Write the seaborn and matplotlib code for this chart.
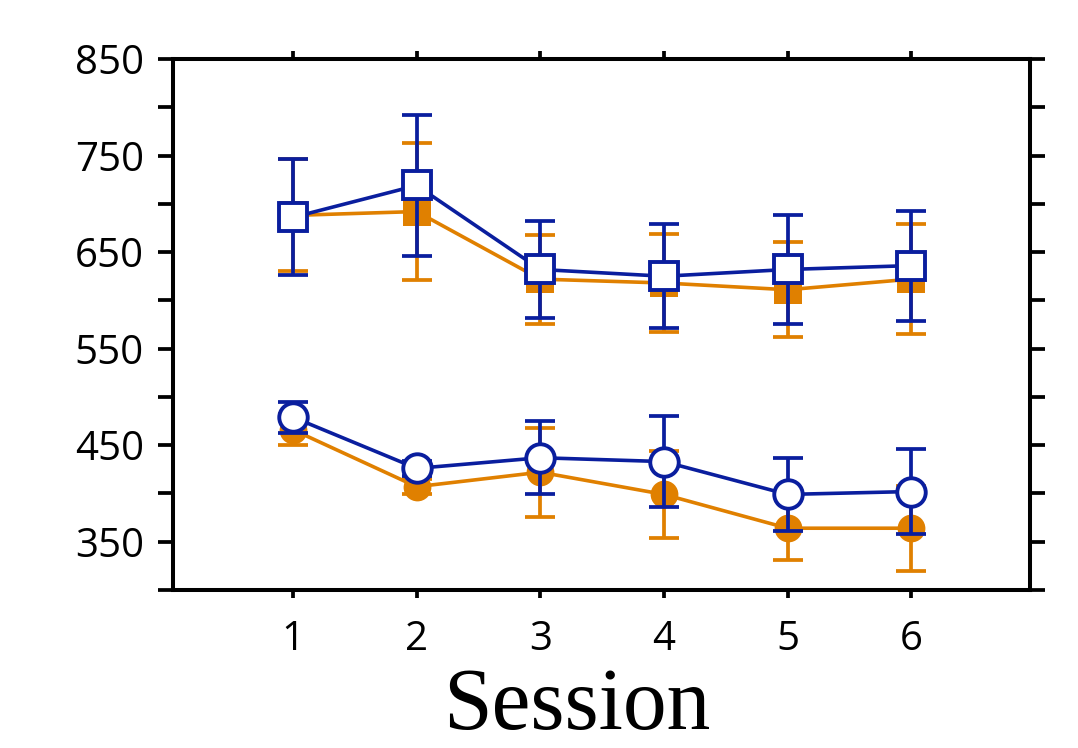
import numpy as np
import pandas as pd
import matplotlib
matplotlib.use("Agg")
import matplotlib.pyplot as plt
import seaborn as sns

sessions = [1, 2, 3, 4, 5, 6]

# squares (upper group)
sq_blue = [686, 719, 632, 625, 632, 636]
sq_blue_err = [60, 73, 50, 54, 56, 57]
sq_orange = [688, 692, 622, 618, 611, 622]
sq_orange_err = [58, 71, 46, 51, 49, 57]

# circles (lower group)
ci_blue = [479, 426, 437, 433, 399, 402]
ci_blue_err = [16, 8, 38, 47, 38, 44]
ci_orange = [466, 407, 422, 399, 364, 364]
ci_orange_err = [16, 8, 46, 45, 33, 44]

yticks_major = [350, 450, 550, 650, 750, 850]
yticks_minor = [300, 400, 500, 600, 700, 800]

BLUE = "#0a1e9e"
ORANGE = "#e08000"

sns.set_theme(style="white")
plt.rcParams["font.family"] = ["Open Sans", "DejaVu Sans"]

fig = plt.figure(figsize=(10.78, 7.48), dpi=100)
ax = fig.add_axes([173 / 1078, 1 - 590 / 748, (1030 - 173) / 1078, (590 - 59) / 748])

df = pd.DataFrame({
    "session": sessions,
    "sq_blue": sq_blue, "sq_orange": sq_orange,
    "ci_blue": ci_blue, "ci_orange": ci_orange,
})

def draw(col, err, color, marker, filled, ms, z):
    ax.errorbar(sessions, df[col], yerr=err, fmt="none", ecolor=color,
                elinewidth=2.7, capsize=11, capthick=2.7, zorder=z)
    sns.lineplot(data=df, x="session", y=col, ax=ax, color=color, linewidth=2.6,
                 marker=marker, markersize=ms,
                 markerfacecolor=color if filled else "white",
                 markeredgecolor=color, markeredgewidth=0 if filled else 2.8,
                 zorder=z + 1)

draw("sq_orange", sq_orange_err, ORANGE, "s", True, 20.5, 2)
draw("ci_orange", ci_orange_err, ORANGE, "o", True, 20, 2)
draw("sq_blue", sq_blue_err, BLUE, "s", False, 20.5, 4)
draw("ci_blue", ci_blue_err, BLUE, "o", False, 20.5, 4)

ax.set_xlim(0.03, 6.96)
ax.set_ylim(300, 850)
ax.set_xticks(sessions)
ax.set_xticklabels([str(s) for s in sessions])
ax.set_yticks(yticks_major)
ax.set_yticklabels([str(v) for v in yticks_major])
ax.set_yticks(yticks_minor, minor=True)
ax.set_xlabel("")
ax.set_ylabel("")

for s in ax.spines.values():
    s.set_visible(True)
    s.set_color("black")
    s.set_linewidth(2.9)

ax.tick_params(axis="y", which="both", direction="out", left=True, right=True,
               length=11, width=2.7, color="black", labelsize=29, pad=10,
               labelcolor="black")
ax.tick_params(axis="x", which="both", direction="out", bottom=True, top=True,
               length=5.5, width=2.7, color="black", labelsize=29, pad=16,
               labelcolor="black")
for lab in ax.get_xticklabels() + ax.get_yticklabels():
    lab.set_fontweight("medium")

fig.text(577 / 1078, 1 - 729 / 748, "Session", family=["Liberation Serif"],
         fontsize=63, ha="center", va="baseline", color="black")

fig.savefig("out.png", dpi=100, facecolor="white")
